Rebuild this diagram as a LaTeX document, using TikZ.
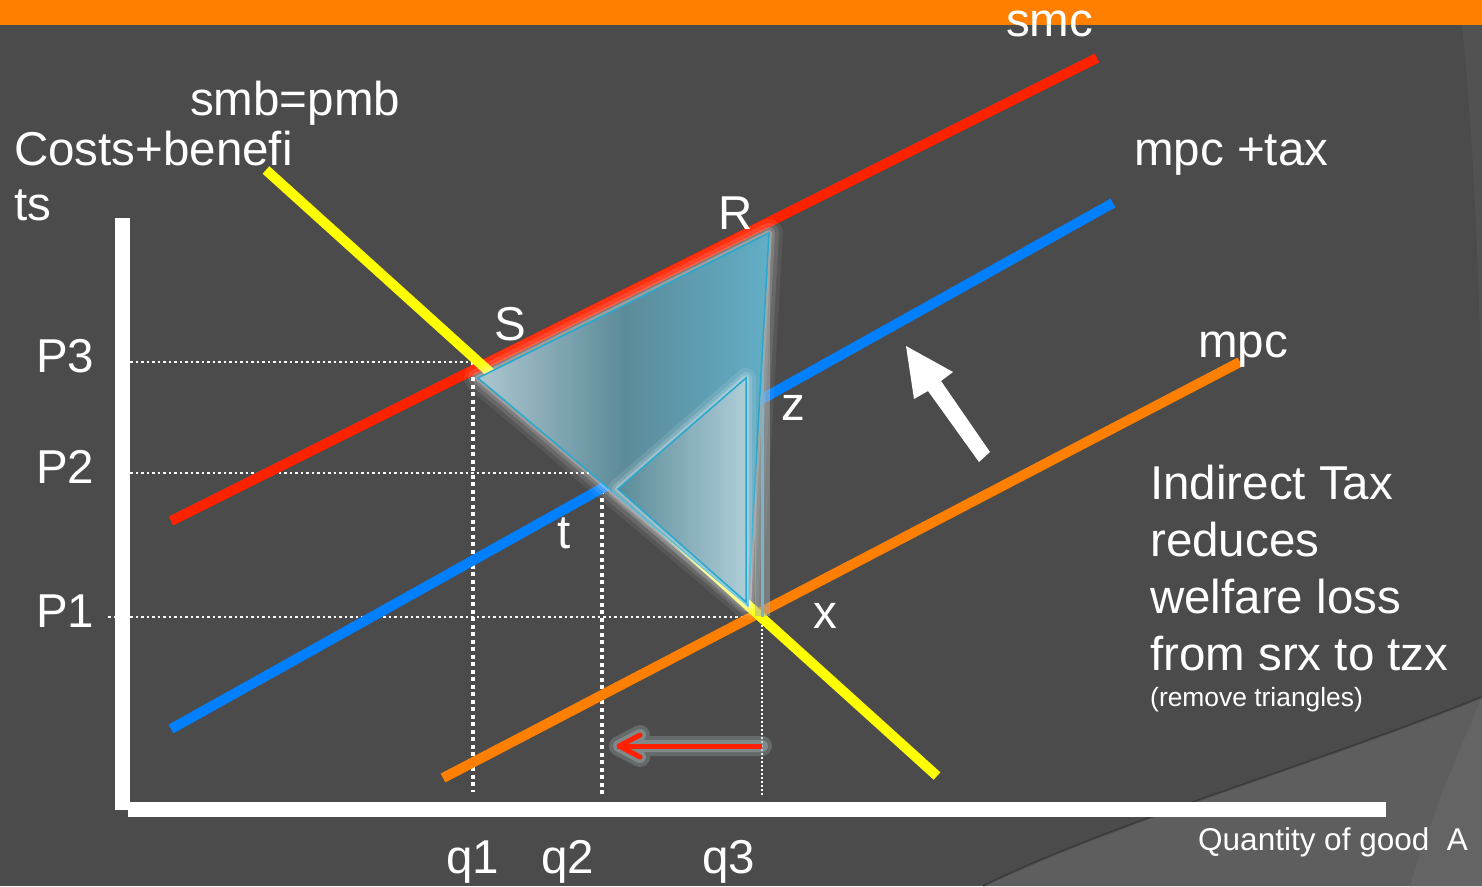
\documentclass[tikz,border=0pt]{standalone}
\usepackage{fontspec}
\setmainfont{Liberation Sans}[Ligatures=NoCommon]
\newcommand\mysz[1]{\fontsize{#1}{#1}\selectfont}
\definecolor{bgc}{HTML}{4B4B4B}
\definecolor{bgl}{HTML}{5E5E5E}
\definecolor{bgl2}{HTML}{646464}
\definecolor{bgt}{HTML}{525252}
\definecolor{topbar}{HTML}{FF7F00}
\definecolor{smcc}{HTML}{FF2200}
\definecolor{taxc}{HTML}{0080FF}
\definecolor{mpcc}{HTML}{FF7F00}
\definecolor{smbc}{HTML}{FFFF00}
\definecolor{triedge}{HTML}{27A9CF}
\definecolor{bigL}{HTML}{ADC6CF}
\definecolor{bigM}{HTML}{5C8B99}
\definecolor{bigR}{HTML}{62AEC6}
\definecolor{smL}{HTML}{5A8B98}
\definecolor{smR}{HTML}{AECDD7}
\definecolor{stripc}{HTML}{A3AEB0}
\definecolor{stripl}{HTML}{7EB2C4}
\definecolor{arrglow}{HTML}{A0B0B0}
\definecolor{arrred}{HTML}{FF2000}
\begin{document}
\begin{tikzpicture}[x=1pt,y=-1pt,
  lbl/.style={text=white, inner sep=0pt, anchor=base west, font=\mysz{47.5}},
  curve/.style={line width=10pt},
  dotP/.style={white, line width=2.5pt, dash pattern=on 2.5pt off 3pt},
  dotQ/.style={white, line width=3.5pt, dash pattern=on 4pt off 3.5pt},
  dotF/.style={white, line width=2pt, dash pattern=on 2pt off 2pt},
  glowA/.style={white, line width=28pt, opacity=0.07, line join=round},
  glowB/.style={white, line width=20pt, opacity=0.1, line join=round},
  glowC/.style={white, line width=12pt, opacity=0.15, line join=round},
  glowD/.style={white, line width=6pt, opacity=0.25, line join=round},
  triline/.style={triedge, line width=1.5pt, line join=miter}
]
\useasboundingbox (0,0) rectangle (1482,886);
% background
\fill[bgc] (0,0) rectangle (1482,886);
\fill[bgt] (1462,25) .. controls (1472,120) and (1478,250) .. (1482,400) -- (1482,25) -- cycle;
\fill[bgl] (1482,697) .. controls (1300,770) and (1120,820) .. (983,886) -- (1482,886) -- cycle;
\draw[black, opacity=0.25, line width=2pt] (1482,697) .. controls (1300,770) and (1120,820) .. (983,886);
\fill[bgl2] (1482,697) .. controls (1455,760) and (1430,820) .. (1410,886) -- (1482,886) -- cycle;
\fill[topbar] (0,0) rectangle (1482,25);

% dotted guide lines
\draw[dotP] (130,362) -- (490,362);
\draw[dotP] (130,473) -- (592,473);
\draw[dotP] (108,617) -- (760,617);
\draw[dotQ] (473,362) -- (473,792);
\draw[dotQ] (602,490) -- (602,797);
\draw[dotF] (762,617) -- (762,795);

% curves
\coordinate (smcA) at (171,521);  \coordinate (smcB) at (1097,58);
\coordinate (taxA) at (171,729);  \coordinate (taxB) at (1113,203);
\coordinate (mpcA) at (443,778);  \coordinate (mpcB) at (1240,362);
\coordinate (smbA) at (266,170);  \coordinate (smbB) at (937,776);
\draw[curve, smcc] (smcA) -- (smcB);
\draw[curve, taxc] (taxA) -- (taxB);
\draw[curve, mpcc] (mpcA) -- (mpcB);
\draw[curve, smbc] (smbA) -- (smbB);

% axes
\fill[white] (115,218) rectangle (130,810);
\fill[white] (128,802) rectangle (1386,817);

% triangles
\coordinate (S) at (478,378);
\coordinate (R) at (769,233);
\coordinate (B) at (748,606);
\coordinate (T1) at (618,489);
\coordinate (T2) at (746,378);
\coordinate (T3) at (746,602);
\foreach \g in {glowA,glowB,glowC,glowD}
  \draw[\g] (S) -- (R) -- (B) -- cycle;
\fill[stripc, opacity=0.5] (755,238) rectangle (770,616);
\draw[stripl, line width=3pt] (762,236) -- (762,617);
\shade[left color=bigL, right color=bigR, middle color=bigM] (S) -- (R) -- (B) -- cycle;
\draw[triline] (S) -- (R) -- (B) -- cycle;
\foreach \g in {glowB,glowC,glowD}
  \draw[\g] (T1) -- (T2) -- (T3) -- cycle;
\shade[left color=smL, right color=smR] (T1) -- (T2) -- (T3) -- cycle;
\draw[triline] (T1) -- (T2) -- (T3) -- cycle;

% red arrow
\coordinate (ra1) at (762,746);
\coordinate (ra2) at (619,746);
\coordinate (rh1) at (640,735);
\coordinate (rh2) at (640,757);
\draw[arrglow, opacity=0.3, line width=20pt, line cap=round, line join=round] (ra1) -- (ra2) (rh1) -- (ra2) -- (rh2);
\draw[arrglow, opacity=0.45, line width=12pt, line cap=round, line join=round] (ra1) -- (ra2) (rh1) -- (ra2) -- (rh2);
\draw[arrred, line width=5pt] (ra1) -- ([xshift=-2pt]ra2);
\draw[arrred, line width=5pt, line cap=round, line join=round] (rh1) -- (ra2) -- (rh2);

% white block arrow
\fill[white] (906,346) -- (953,372) -- (941,381) -- (990,452) -- (979,462) -- (928,391) -- (914,399) -- cycle;

% labels
\node[lbl] (lsmc) at (1006,36) {smc};
\node[lbl] (lsmb) at (190,115) {smb=pmb};
\node[lbl] (lcb1) at (14,165) {Costs+benefi};
\node[lbl] (lcb2) at (14,220) {ts};
\node[lbl] (ltax) at (1134,165) {mpc +tax};
\node[lbl] (lmpc) at (1198,357) {mpc};
\node[lbl] (lR) at (718,229) {R};
\node[lbl] (lS) at (494,340) {S};
\node[lbl] (lz) at (781,420) {z};
\node[lbl] (lt) at (557,548) {t};
\node[lbl] (lx) at (813,628) {x};
\node[lbl] (lP3) at (36,372) {P3};
\node[lbl] (lP2) at (36,483) {P2};
\node[lbl] (lP1) at (36,627) {P1};
\node[lbl] (lq1) at (446,873) {q1};
\node[lbl] (lq2) at (541,873) {q2};
\node[lbl] (lq3) at (702,873) {q3};
\node[lbl] (ltx1) at (1150,499) {Indirect Tax};
\node[lbl] (ltx2) at (1150,556) {reduces};
\node[lbl] (ltx3) at (1150,613) {welfare loss};
\node[lbl] (ltx4) at (1150,670) {from srx to tzx};
\node[lbl, font=\mysz{26.4}] (ltx5) at (1150,706) {(remove triangles)};
\node[lbl, font=\mysz{31.5}] (lqa) at (1198,850) {Quantity of good\ \ A};
\end{tikzpicture}
\end{document}
